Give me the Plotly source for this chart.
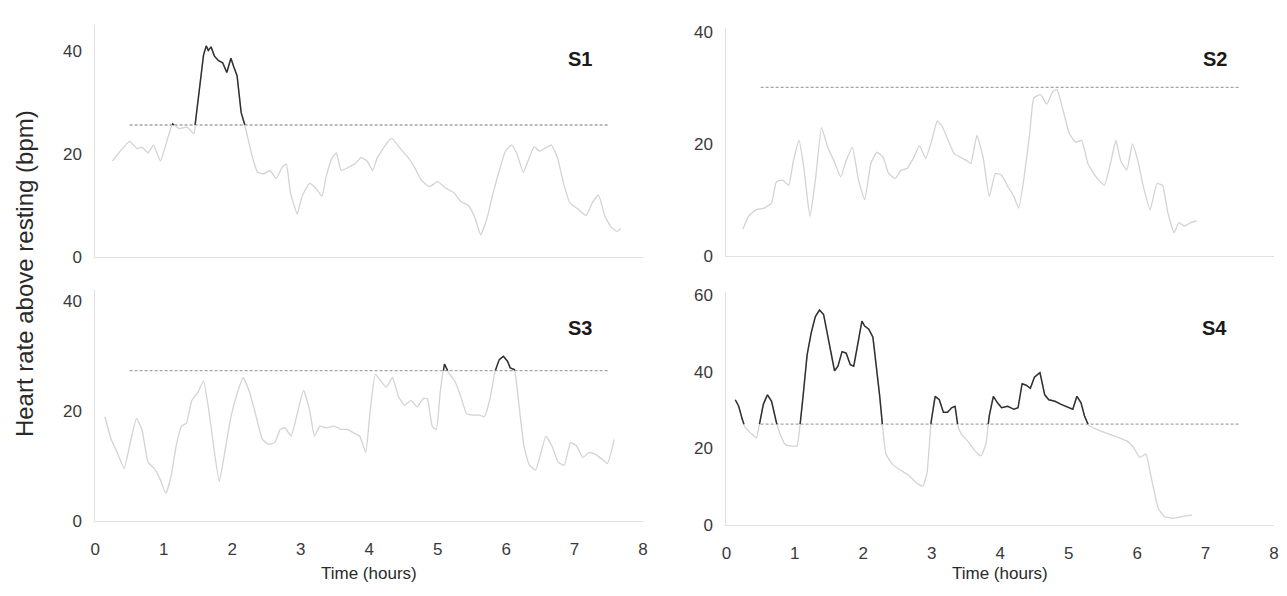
import plotly.graph_objects as go

# ---------------- data ----------------
s1_t = [0.25, 0.5, 0.61, 0.68, 0.77, 0.85, 0.95, 1.07, 1.13, 1.22, 1.34, 1.44, 1.48, 1.53, 1.58, 1.62,
        1.65, 1.69, 1.74, 1.8, 1.86, 1.92, 1.98, 2.02, 2.07, 2.13, 2.18, 2.25, 2.31, 2.37, 2.46, 2.55,
        2.64, 2.73, 2.79, 2.85, 2.95, 3.02, 3.13, 3.22, 3.31, 3.37, 3.46, 3.52, 3.59, 3.70, 3.79, 3.88,
        3.97, 4.05, 4.12, 4.24, 4.33, 4.45, 4.57, 4.66, 4.76, 4.88, 5.0, 5.12, 5.24, 5.33, 5.45, 5.54,
        5.63, 5.72, 5.81, 5.90, 5.99, 6.08, 6.16, 6.25, 6.32, 6.41, 6.49, 6.57, 6.66, 6.75, 6.84, 6.93,
        7.05, 7.17, 7.26, 7.35, 7.44, 7.53, 7.62, 7.67]
s1_hr = [18.6, 22.4, 21.0, 21.3, 20.2, 21.7, 18.6, 23.6, 25.8, 24.9, 25.2, 23.9, 28.0, 33.6, 39.2, 41.0,
         40.1, 40.8, 39.0, 38.1, 37.7, 35.8, 38.6, 37.0, 35.2, 28.0, 25.8, 21.8, 18.6, 16.4, 16.1, 16.75,
         15.2, 17.4, 18.0, 12.4, 8.3, 11.75, 14.25, 13.3, 11.75, 15.5, 19.25, 20.2, 16.75, 17.4, 18.0, 19.25,
         18.6, 16.75, 19.25, 21.75, 23.0, 21.1, 19.25, 17.4, 14.9, 13.6, 14.6, 13.3, 12.4, 10.8, 9.9, 7.7,
         4.25, 7.4, 12.4, 16.75, 20.5, 21.75, 19.9, 16.4, 18.6, 21.4, 20.5, 21.1, 21.75, 19.25, 14.25, 10.5,
         9.25, 8.0, 10.5, 12.0, 8.0, 5.8, 4.9, 5.5]

s2_t = [0.24, 0.32, 0.43, 0.55, 0.66, 0.73, 0.82, 0.91, 0.98, 1.06, 1.13, 1.22, 1.30, 1.39, 1.48, 1.57,
        1.67, 1.75, 1.84, 1.93, 2.02, 2.11, 2.20, 2.29, 2.37, 2.47, 2.55, 2.64, 2.73, 2.82, 2.91, 3.0,
        3.08, 3.15, 3.24, 3.33, 3.42, 3.51, 3.57, 3.66, 3.75, 3.84, 3.93, 4.02, 4.11, 4.20, 4.27, 4.35,
        4.43, 4.49, 4.59, 4.68, 4.77, 4.83, 4.92, 5.01, 5.10, 5.19, 5.28, 5.40, 5.52, 5.61, 5.69, 5.76,
        5.85, 5.93, 6.01, 6.09, 6.19, 6.29, 6.37, 6.45, 6.54, 6.61, 6.69, 6.78, 6.87]
s2_hr = [4.7, 7.0, 8.2, 8.5, 9.4, 13.2, 13.5, 12.6, 17.0, 20.6, 15.9, 7.0, 13.5, 22.9, 19.4, 17.0,
         14.1, 17.0, 19.4, 13.5, 10.0, 16.5, 18.5, 17.6, 14.7, 13.8, 15.3, 15.6, 17.4, 19.7, 17.4, 20.6,
         24.1, 23.2, 20.6, 18.2, 17.6, 17.0, 16.5, 21.5, 17.6, 10.6, 14.7, 14.4, 12.4, 10.6, 8.5, 14.1,
         21.8, 28.2, 28.8, 27.1, 29.4, 29.7, 25.9, 21.8, 20.3, 20.6, 16.5, 14.1, 12.6, 16.5, 20.6, 17.0,
         15.3, 20.0, 17.0, 12.4, 8.2, 12.9, 12.6, 7.6, 4.1, 5.9, 5.3, 5.9, 6.2]

s3_t = [0.14, 0.23, 0.32, 0.42, 0.50, 0.60, 0.68, 0.77, 0.86, 0.94, 1.03, 1.11, 1.18, 1.26, 1.33, 1.41,
        1.50, 1.58, 1.65, 1.74, 1.81, 1.89, 1.98, 2.07, 2.16, 2.26, 2.35, 2.44, 2.53, 2.62, 2.70, 2.77,
        2.86, 2.95, 3.04, 3.13, 3.20, 3.28, 3.37, 3.49, 3.59, 3.68, 3.77, 3.86, 3.95, 4.01, 4.09, 4.17,
        4.25, 4.34, 4.43, 4.52, 4.61, 4.70, 4.79, 4.85, 4.92, 4.98, 5.04, 5.10, 5.16, 5.25, 5.34, 5.42,
        5.52, 5.61, 5.68, 5.76, 5.84, 5.90, 5.96, 6.02, 6.06, 6.12, 6.18, 6.26, 6.34, 6.43, 6.51, 6.58,
        6.67, 6.76, 6.85, 6.94, 7.03, 7.12, 7.21, 7.30, 7.40, 7.48, 7.58]
s3_hr = [18.9, 14.8, 12.4, 9.5, 13.6, 18.6, 16.6, 10.65, 9.5, 7.7, 5.0, 8.3, 13.6, 17.2, 17.75, 21.9,
         23.4, 25.4, 20.7, 12.4, 7.1, 12.4, 18.9, 23.1, 26.0, 23.1, 18.9, 14.8, 13.9, 14.2, 16.6, 16.9,
         15.4, 19.5, 23.7, 20.1, 15.4, 17.2, 16.9, 17.2, 16.6, 16.6, 16.0, 15.4, 12.4, 19.5, 26.6, 25.4,
         24.3, 26.0, 22.5, 21.0, 21.9, 20.7, 22.2, 22.2, 17.2, 16.6, 23.7, 28.5, 26.9, 25.4, 22.5, 19.5,
         19.2, 19.2, 18.9, 21.9, 27.2, 29.3, 29.9, 29.0, 27.8, 27.5, 21.9, 13.6, 10.1, 9.2, 12.4, 15.4,
         13.6, 10.65, 10.1, 14.2, 13.6, 11.5, 12.4, 12.1, 11.2, 10.4, 14.8]

s4_t = [0.13, 0.18, 0.23, 0.27, 0.36, 0.44, 0.48, 0.54, 0.60, 0.66, 0.73, 0.79, 0.86, 0.94, 1.03, 1.08,
        1.12, 1.18, 1.24, 1.30, 1.36, 1.42, 1.48, 1.54, 1.58, 1.63, 1.69, 1.75, 1.81, 1.86, 1.92, 1.98,
        2.02, 2.08, 2.14, 2.19, 2.24, 2.28, 2.33, 2.42, 2.54, 2.66, 2.78, 2.87, 2.93, 2.99, 3.05, 3.11,
        3.17, 3.23, 3.29, 3.34, 3.38, 3.44, 3.53, 3.63, 3.72, 3.79, 3.84, 3.90, 3.96, 4.02, 4.11, 4.20,
        4.26, 4.32, 4.38, 4.44, 4.50, 4.58, 4.65, 4.71, 4.80, 4.89, 5.00, 5.06, 5.12, 5.18, 5.23, 5.29,
        5.38, 5.50, 5.62, 5.74, 5.86, 5.95, 6.04, 6.13, 6.19, 6.25, 6.31, 6.40, 6.53, 6.65, 6.80]
s4_hr = [32.7, 31.0, 27.7, 25.6, 23.9, 22.7, 26.0, 31.5, 34.0, 32.3, 26.8, 23.5, 21.0, 20.6, 20.6, 26.8,
         33.6, 44.5, 50.3, 54.5, 56.2, 55.0, 49.5, 43.6, 40.3, 41.5, 45.3, 44.9, 41.9, 41.5, 47.0, 53.3,
         52.0, 51.2, 49.1, 41.9, 33.6, 26.0, 18.5, 15.9, 14.3, 13.0, 10.9, 10.1, 13.4, 26.8, 33.6, 32.7,
         29.4, 29.4, 30.6, 31.0, 26.0, 23.5, 21.8, 19.3, 18.0, 21.0, 28.5, 33.6, 31.9, 30.6, 31.0, 30.2,
         30.6, 36.9, 36.5, 35.7, 38.6, 39.8, 34.0, 32.7, 32.3, 31.5, 30.6, 30.2, 33.6, 31.9, 28.5, 26.0,
         25.2, 24.3, 23.5, 22.7, 21.8, 20.1, 17.6, 18.5, 13.6, 8.6, 4.2, 2.1, 1.7, 2.1, 2.5]

thresholds = [25.6, 30.1, 27.3, 26.3]
threshold_span = [0.5, 7.5]
panel_names = ["S1", "S2", "S3", "S4"]
x_ticks = [0, 1, 2, 3, 4, 5, 6, 7, 8]
y_ticks = [[0, 20, 40], [0, 20, 40], [0, 20, 40], [0, 20, 40, 60]]
y_ranges = [[0, 45], [0, 40.8], [0, 42], [0, 61]]
x_title = "Time (hours)"
y_title = "Heart rate above resting (bpm)"

series = [(s1_t, s1_hr), (s2_t, s2_hr), (s3_t, s3_hr), (s4_t, s4_hr)]

# ---------------- layout geometry (page pixels; the page body adds an 8px margin) ----------------
PAGE_W, PAGE_H = 1287, 596
OFF = 8
W, H = PAGE_W - OFF, PAGE_H - OFF


def px(x):
    return (x - OFF) / W


def py(y):
    return 1 - (y - OFF) / H


x_px = [[91, 643], [727, 1279], [91, 643], [727, 1279]]
y_px = [[258, 20.6], [257, 23], [529, 292], [533, 294]]   # [bottom, top]
label_px = [(579, 55), (1219, 55), (579, 331), (1219, 331)]

LIGHT = "#d3d3d3"
DARK = "#303030"
FONT = "Liberation Sans, Arial, sans-serif"


def above_segments(xs, ys, thr):
    ox, oy = [], []
    for i in range(len(xs)):
        if i > 0:
            y0, y1 = ys[i - 1], ys[i]
            if (y0 - thr) * (y1 - thr) < 0:
                xc = xs[i - 1] + (thr - y0) * (xs[i] - xs[i - 1]) / (y1 - y0)
                ox.append(xc)
                oy.append(thr)
                if y1 < thr:
                    ox.append(None)
                    oy.append(None)
        if ys[i] >= thr:
            ox.append(xs[i])
            oy.append(ys[i])
    return ox, oy


fig = go.Figure()
for k, (ts, hr) in enumerate(series):
    xa = "x" if k == 0 else f"x{k + 1}"
    ya = "y" if k == 0 else f"y{k + 1}"
    thr = thresholds[k]
    fig.add_trace(go.Scatter(x=threshold_span, y=[thr, thr], mode="lines",
                             line=dict(color="#a5a5a5", width=1.3, dash="3px,2px"),
                             xaxis=xa, yaxis=ya, showlegend=False, hoverinfo="skip"))
    fig.add_trace(go.Scatter(x=ts, y=hr, mode="lines",
                             line=dict(color=LIGHT, width=1.3, shape="spline", smoothing=0.4),
                             xaxis=xa, yaxis=ya, showlegend=False))
    ax, ay = above_segments(ts, hr, thr)
    if ax:
        fig.add_trace(go.Scatter(x=ax, y=ay, mode="lines", connectgaps=False,
                                 line=dict(color=DARK, width=1.5),
                                 xaxis=xa, yaxis=ya, showlegend=False))

    bottom = k >= 2
    xkey = "xaxis" if k == 0 else f"xaxis{k + 1}"
    ykey = "yaxis" if k == 0 else f"yaxis{k + 1}"
    fig.update_layout(**{
        xkey: dict(domain=[px(x_px[k][0]), px(x_px[k][1])], range=[0, 8], anchor=ya,
                   showgrid=False, zeroline=False,
                   showline=True, linecolor="#e0e0e0", linewidth=1,
                   tickvals=x_ticks, showticklabels=bottom, ticks="",
                   ticklabelstandoff=13, ticklabeloverflow="allow",
                   tickfont=dict(family=FONT, size=17, color="#3a3a3a")),
        ykey: dict(domain=[py(y_px[k][0]), py(y_px[k][1])], range=y_ranges[k], anchor=xa,
                   showgrid=False, zeroline=False,
                   showline=True, linecolor="#e0e0e0", linewidth=1,
                   tickvals=y_ticks[k], ticks="", ticklabelstandoff=9,
                   tickfont=dict(family=FONT, size=17, color="#3a3a3a")),
    })
    lx, ly = label_px[k]
    fig.add_annotation(text=f"<b>{panel_names[k]}</b>", xref="paper", yref="paper",
                       x=px(lx), y=py(ly), xanchor="center", yanchor="middle", showarrow=False,
                       font=dict(family=FONT, size=20, color="#1a1a1a"))

for cx in [(x_px[0][0] + x_px[0][1]) / 2, (x_px[1][0] + x_px[1][1]) / 2]:
    fig.add_annotation(text=x_title, xref="paper", yref="paper", x=px(cx), y=py(583),
                       xanchor="center", yanchor="middle", showarrow=False,
                       font=dict(family=FONT, size=17, color="#2a2a2a"))

fig.add_annotation(text=y_title, xref="paper", yref="paper",
                   x=px(19), y=py(275), textangle=-90, showarrow=False,
                   xanchor="center", yanchor="middle",
                   font=dict(family=FONT, size=24, color="#2a2a2a"))

fig.update_layout(width=W, height=H, margin=dict(l=0, r=0, t=0, b=0),
                  paper_bgcolor="white", plot_bgcolor="white")

fig.write_html("out.html")
